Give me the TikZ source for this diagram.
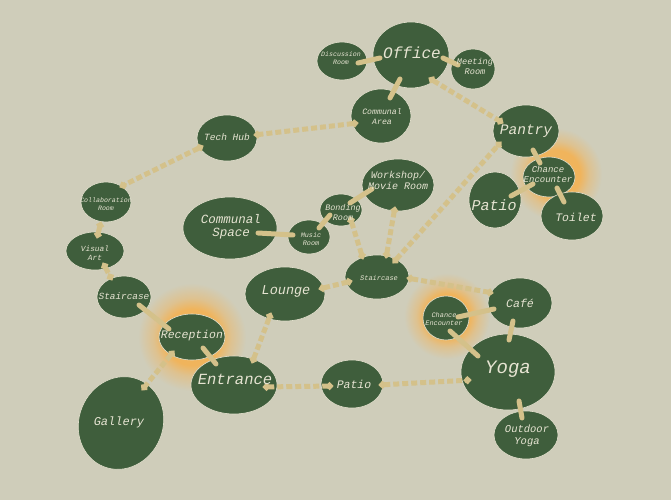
\documentclass[tikz,border=0pt]{standalone}
\usepackage{fontspec}
\setmonofont{Liberation Mono}
\usetikzlibrary{shapes.geometric,arrows.meta,calc}
\definecolor{bgc}{HTML}{CFCDBA}
\definecolor{roomc}{HTML}{3F5E3C}
\definecolor{edgec}{HTML}{E2DFCC}
\definecolor{linkc}{HTML}{D4C18A}
\definecolor{txtc}{HTML}{E6E4D2}
\definecolor{glowc}{HTML}{F0B45C}
\colorlet{glowm}{glowc!45!bgc}
\pgfdeclareradialshading{glowshade}{\pgfpoint{0bp}{0bp}}{color(0bp)=(glowc); color(13bp)=(glowc); color(18bp)=(glowm); color(25bp)=(bgc); color(50bp)=(bgc)}
\newcommand\lf[2]{\fontsize{#1}{#2}\selectfont\ttfamily\itshape}
\tikzset{
  room/.style={ellipse, draw=edgec, line width=0.6pt, fill=roomc, inner sep=0pt},
  lbl/.style={text=txtc, inner sep=0pt, align=center},
  solidc/.style={draw=linkc, line width=5pt, line cap=round},
  dashc/.style={draw=linkc, line width=5pt, dash pattern=on 6pt off 3pt,
    arrows={Circle[length=7pt,width=7pt]-Circle[length=7pt,width=7pt]}},
}
\begin{document}
\begin{tikzpicture}[x=1pt,y=-1pt]
\useasboundingbox (0,0) rectangle (671,500);
\fill[bgc] (0,0) rectangle (671,500);
% glows
\shade[shading=glowshade] (192,337) circle (54);
\shade[shading=glowshade] (556,174) circle (46);
\shade[shading=glowshade] (447,316) circle (43);
% rooms
\node[room, minimum width=76pt, minimum height=66pt] (office) at (411,55) {};
\node[room, minimum width=50pt, minimum height=38pt] (disc) at (342,61) {};
\node[room, minimum width=44pt, minimum height=40pt] (meet) at (473,69) {};
\node[room, minimum width=60pt, minimum height=54pt] (carea) at (381,116) {};
\node[room, minimum width=66pt, minimum height=52pt] (pantry) at (526,131) {};
\node[room, minimum width=52pt, minimum height=40pt] (chA) at (549,177) {};
\node[room, minimum width=52pt, minimum height=56pt] (patioR) at (495,200) {};
\node[room, minimum width=62pt, minimum height=48pt] (toilet) at (572,216) {};
\node[room, minimum width=60pt, minimum height=46pt] (tech) at (227,138) {};
\node[room, minimum width=50pt, minimum height=40pt] (collab) at (106,202) {};
\node[room, minimum width=58pt, minimum height=38pt] (visual) at (95,251) {};
\node[room, minimum width=54pt, minimum height=42pt] (stairL) at (124,297) {};
\node[room, minimum width=94pt, minimum height=62pt] (cspace) at (230,228) {};
\node[room, minimum width=80pt, minimum height=54pt] (lounge) at (285,294) {};
\node[room, minimum width=66pt, minimum height=46pt] (recep) at (192,337) {};
\node[room, minimum width=86pt, minimum height=58pt] (entr) at (234,385) {};
\node[room, minimum width=84pt, minimum height=94pt, rotate=-22] (gallery) at (121,423) {};
\node[room, minimum width=62pt, minimum height=48pt] (patioB) at (352,384) {};
\node[room, minimum width=42pt, minimum height=34pt] (music) at (309,237) {};
\node[room, minimum width=42pt, minimum height=32pt] (bond) at (341,210) {};
\node[room, minimum width=72pt, minimum height=52pt] (work) at (398,185) {};
\node[room, minimum width=64pt, minimum height=44pt] (stairM) at (377,277) {};
\node[room, minimum width=46pt, minimum height=44pt] (chB) at (446,318) {};
\node[room, minimum width=64pt, minimum height=50pt] (cafe) at (520,303) {};
\node[room, minimum width=94pt, minimum height=76pt] (yoga) at (508,372) {};
\node[room, minimum width=64pt, minimum height=48pt] (outyoga) at (526,435) {};
% solid connectors
\draw[solidc] ($(disc)+(16,2)$) -- ($(office)+(-31,3)$);
\draw[solidc] ($(office)+(32,3)$) -- ($(meet)+(-15,-4)$);
\draw[solidc] ($(office)+(-11,24)$) -- ($(carea)+(9,-18)$);
\draw[solidc] ($(pantry)+(7,19)$) -- ($(chA)+(-9,-14)$);
\draw[solidc] ($(chA)+(-16,7)$) -- ($(patioR)+(16,-4)$);
\draw[solidc] ($(chA)+(8,11)$) -- ($(toilet)+(-8,-14)$);
\draw[solidc] ($(cspace)+(28,5)$) -- ($(music)+(-16,-2)$);
\draw[solidc] ($(music)+(10,-9)$) -- ($(bond)+(-11,5)$);
\draw[solidc] ($(bond)+(9,-7)$) -- ($(work)+(-26,4)$);
\draw[solidc] ($(stairL)+(15,8)$) -- ($(recep)+(-23,-8)$);
\draw[solidc] ($(recep)+(11,11)$) -- ($(entr)+(-18,-21)$);
\draw[solidc] ($(chB)+(12,-1)$) -- ($(cafe)+(-26,6)$);
\draw[solidc] ($(chB)+(4,13)$) -- ($(yoga)+(-30,-16)$);
\draw[solidc] ($(cafe)+(-7,18)$) -- ($(yoga)+(1,-32)$);
\draw[solidc] ($(yoga)+(11,29)$) -- ($(outyoga)+(-4,-17)$);
% dashed connectors
\draw[dashc] ($(office)+(18,23)$) -- ($(pantry)+(-23,-8)$);
\draw[dashc] ($(carea)+(-23,7)$) -- ($(tech)+(27,-3)$);
\draw[dashc] ($(tech)+(-24,8)$) -- ($(collab)+(14,-15)$);
\draw[dashc] ($(collab)+(-5,20)$) -- ($(visual)+(2,-13)$);
\draw[dashc] ($(visual)+(8,12)$) -- ($(stairL)+(-12,-17)$);
\draw[dashc] ($(recep)+(-18,14)$) -- ($(gallery)+(21,-33)$);
\draw[dashc] ($(entr)+(18,-22)$) -- ($(lounge)+(-14,19)$);
\draw[dashc] ($(entr)+(29,2)$) -- ($(patioB)+(-19,2)$);
\draw[dashc] ($(patioB)+(27,1)$) -- ($(yoga)+(-37,8)$);
\draw[dashc] ($(lounge)+(34,-5)$) -- ($(stairM)+(-25,4)$);
\draw[dashc] ($(stairM)+(-14,-18)$) -- ($(bond)+(9,7)$);
\draw[dashc] ($(stairM)+(9,-19)$) -- ($(work)+(-3,22)$);
\draw[dashc] ($(stairM)+(16,-14)$) -- ($(pantry)+(-25,11)$);
\draw[dashc] ($(stairM)+(30,1)$) -- ($(cafe)+(-27,-10)$);
% labels
\node[lbl, font=\lf{16}{18}] (tOffice) at ($(office)+(1,-2)$) {Office};
\node[lbl, font=\lf{6.6}{8}] (tDisc) at ($(disc)+(-1,-3)$) {Discussion\\Room};
\node[lbl, font=\lf{8.6}{10}] (tMeet) at ($(meet)+(2,-3)$) {Meeting\\Room};
\node[lbl, font=\lf{8.2}{10}] (tCarea) at ($(carea)+(1,1)$) {Communal\\Area};
\node[lbl, font=\lf{14.5}{16}] (tPantry) at (pantry) {Pantry};
\node[lbl, font=\lf{9}{10}] (tChA) at ($(chA)+(-1,-3)$) {Chance\\Encounter};
\node[lbl, font=\lf{15}{17}] (tPatioR) at ($(patioR)+(-1,5)$) {Patio};
\node[lbl, font=\lf{11.5}{13}] (tToilet) at ($(toilet)+(4,1)$) {Toilet};
\node[lbl, font=\lf{9.5}{11}] (tTech) at ($(tech)+(0,-1)$) {Tech Hub};
\node[lbl, font=\lf{6.6}{8}] (tCollab) at ($(collab)+(0,2)$) {Collaboration\\Room};
\node[lbl, font=\lf{7.8}{8.5}] (tVisual) at ($(visual)+(0,2)$) {Visual\\Art};
\node[lbl, font=\lf{9.4}{11}] (tStairL) at ($(stairL)+(0,-1)$) {Staircase};
\node[lbl, font=\lf{12.5}{12.5}] (tCspace) at ($(cspace)+(1,-1)$) {Communal\\Space};
\node[lbl, font=\lf{13.5}{15}] (tLounge) at ($(lounge)+(1,-3)$) {Lounge};
\node[lbl, font=\lf{11.5}{13}] (tRecep) at ($(recep)+(0,-1)$) {Reception};
\node[lbl, font=\lf{15.5}{17}] (tEntr) at ($(entr)+(1,-6)$) {Entrance};
\node[lbl, font=\lf{12}{14}] (tGallery) at ($(gallery)+(-2,-1)$) {Gallery};
\node[lbl, font=\lf{11.5}{13}] (tPatioB) at ($(patioB)+(2,0)$) {Patio};
\node[lbl, font=\lf{6.8}{7.5}] (tMusic) at ($(music)+(2,2)$) {Music\\Room};
\node[lbl, font=\lf{8.4}{10}] (tBond) at ($(bond)+(2,2)$) {Bonding\\Room};
\node[lbl, font=\lf{10}{11}] (tWork) at ($(work)+(0,-5)$) {Workshop/\\Movie Room};
\node[lbl, font=\lf{7}{8}] (tStairM) at ($(stairM)+(2,1)$) {Staircase};
\node[lbl, font=\lf{6.9}{8}] (tChB) at ($(chB)+(-2,1)$) {Chance\\Encounter};
\node[lbl, font=\lf{11.5}{13}] (tCafe) at (cafe) {Café};
\node[lbl, font=\lf{19}{21}] (tYoga) at ($(yoga)+(0,-3)$) {Yoga};
\node[lbl, font=\lf{10.5}{12}] (tOut) at ($(outyoga)+(1,1)$) {Outdoor\\Yoga};
\end{tikzpicture}
\end{document}
